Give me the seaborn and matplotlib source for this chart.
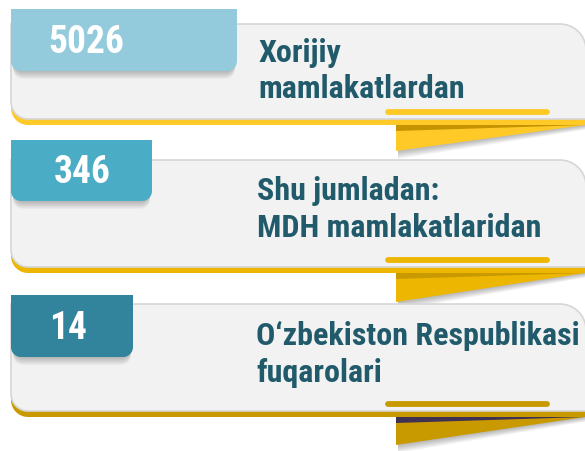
#!/usr/bin/env python3
"""
Foreign arrivals infographic
----------------------------
Three stacked ribbon cards with a count badge and a caption each.
"""
import numpy as np
import matplotlib
matplotlib.use("Agg")
import matplotlib.pyplot as plt
from matplotlib import font_manager
from matplotlib.patches import Polygon
import seaborn as sns

# Data
counts = [5026, 346, 14]
captions = [
    "Xorijiy\nmamlakatlardan",
    "Shu jumladan:\nMDH mamlakatlaridan",
    "O\u2018zbekiston Respublikasi\nfuqarolari",
]

# Styles
badge_colors = ["#93CBDD", "#4BACC6", "#31849B"]
band_colors = ["#FFCA28", "#EDB600", "#C99A00"]
fold_colors = ["#C49400", "#C99A00", "#3F3151"]
TEXT_COLOR = "#215B6B"
PANEL_FILL = "#F2F2F2"
PANEL_EDGE = "#D6D6D6"

# Layout (pixels, y going down)
panel_tops = [24, 160, 304]
band_bottoms = [125, 273, 417]
badge_boxes = [(11, 9, 237, 71), (11, 140, 152, 201), (11, 295, 133, 357)]
number_x = [86, 82, 68]
caption_x = [258, 257, 256]
caption_baselines = [(62, 98), (200, 237), (345, 382)]
fold_bottoms = [151, 302, 445]

sns.set_style("white")

available = {f.name for f in font_manager.fontManager.ttflist}
FONT = "DejaVu Sans"
for cand in ["Roboto Condensed", "Liberation Sans Narrow", "Roboto"]:
    if cand in available:
        FONT = cand
        break


def rrect(x0, y0, x1, y1, tl=0, tr=0, br=0, bl=0, n=16):
    """Points of a rectangle with per-corner radii (y axis pointing down)."""
    pts = []
    corners = [
        (x0 + tl, y0 + tl, tl, 180, 270),
        (x1 - tr, y0 + tr, tr, 270, 360),
        (x1 - br, y1 - br, br, 0, 90),
        (x0 + bl, y1 - bl, bl, 90, 180),
    ]
    for cx, cy, r, a0, a1 in corners:
        ang = np.radians(np.linspace(a0, a1, n))
        pts.extend(zip(cx + r * np.cos(ang), cy + r * np.sin(ang)))
    return np.array(pts)


fig = plt.figure(figsize=(5.85, 4.51), dpi=100)
ax = fig.add_axes([0, 0, 1, 1])
ax.set_xlim(0, 585)
ax.set_ylim(451, 0)
ax.axis("off")

for i, (count, caption) in enumerate(zip(counts, captions)):
    top, bottom = panel_tops[i], band_bottoms[i]

    # panel: yellow underlay, grey card on top
    ax.add_patch(Polygon(rrect(11, top, 586, bottom, tr=26, bl=17),
                         closed=True, fc=band_colors[i], ec="none", zorder=1))
    ax.add_patch(Polygon(rrect(11, top, 586, bottom - 6, tr=26, bl=17),
                         closed=True, fc=PANEL_FILL, ec=PANEL_EDGE, lw=1.2, zorder=2))

    # pill under caption
    ax.plot([388, 547], [bottom - 13, bottom - 13], color=band_colors[i],
            lw=4.2, solid_capstyle="round", zorder=3)

    # folded ribbon under the band
    fb = fold_bottoms[i]
    for k in range(1, 9):
        ax.add_patch(Polygon([(398, bottom), (585, bottom), (585, bottom + k * 0.6), (398, fb + k)],
                             closed=True, fc="black", alpha=0.035, ec="none", zorder=1))
    ax.add_patch(Polygon([(396, bottom), (585, bottom), (396, fb)],
                         closed=True, fc=band_colors[i], ec="none", zorder=2))
    ax.add_patch(Polygon([(396, bottom), (585, bottom), (396, bottom + 6)],
                         closed=True, fc=fold_colors[i], ec="none", zorder=2))

    # count badge with soft shadow
    bx0, by0, bx1, by1 = badge_boxes[i]
    for k in range(1, 9):
        ax.add_patch(Polygon(rrect(bx0 + 2, by0, bx1 - 2, by1 + k, br=10, bl=10),
                             closed=True, fc="black", alpha=0.03, ec="none", zorder=4))
    ax.add_patch(Polygon(rrect(bx0, by0, bx1, by1, br=10, bl=10),
                         closed=True, fc=badge_colors[i], ec="none", zorder=5))
    ax.text(number_x[i], by1 - 18, f"{count}", color="white", fontsize=27,
            fontweight="bold", family=FONT, ha="center", va="baseline", zorder=6)

    # caption lines
    for line, base in zip(caption.split("\n"), caption_baselines[i]):
        ax.text(caption_x[i], base, line, color=TEXT_COLOR, fontsize=23,
                fontweight="bold", family=FONT, ha="left", va="baseline", zorder=6)

fig.savefig("out.png", dpi=100)
plt.close(fig)
